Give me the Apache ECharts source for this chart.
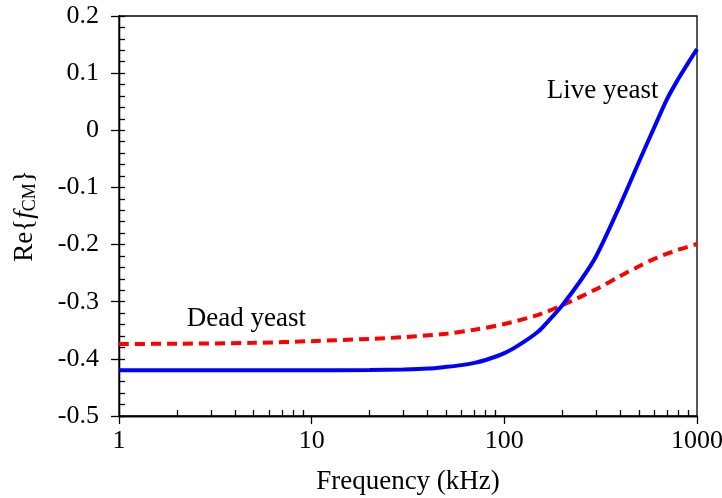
<!DOCTYPE html>
<html>
<head>
<meta charset="utf-8">
<script src="https://cdn.jsdelivr.net/npm/echarts@6/dist/echarts.min.js"></script>
<style>html,body{margin:0;padding:0;background:#fff}#c{width:722px;height:498px}</style>
</head>
<body>
<div id="c"></div>
<script>
const freqs = [1, 2, 5, 10, 20, 30, 40, 50, 60, 70, 80, 100, 120, 150, 170, 200, 250, 300, 400, 500, 600, 700, 800, 900, 1000];
const liveYeast = [-0.420, -0.420, -0.420, -0.420, -0.4195, -0.4185, -0.417, -0.414, -0.411, -0.407, -0.402, -0.390, -0.375, -0.352, -0.333, -0.306, -0.262, -0.220, -0.130, -0.055, 0.005, 0.055, 0.090, 0.118, 0.142];
const deadFreqs = [1, 2, 5, 10, 20, 30, 50, 70, 100, 150, 200, 300, 400, 500, 600, 700, 800, 1000];
const deadYeast = [-0.374, -0.3735, -0.372, -0.369, -0.365, -0.362, -0.356, -0.349, -0.339, -0.323, -0.306, -0.278, -0.255, -0.238, -0.225, -0.216, -0.209, -0.199];
const xMinorTicks = [2,3,4,5,6,7,8,9,20,30,40,50,60,70,80,90,200,300,400,500,600,700,800,900];
const yTicks = {min: -0.5, max: 0.2, interval: 0.1};

const font = 'Liberation Serif';
const chart = echarts.init(document.getElementById('c'));
const axisLine = {show: true, onZero: false, lineStyle: {color: '#000', width: 1.3}};
chart.setOption({
  animation: false,
  grid: {left: 119, right: 25, top: 16, bottom: 82, show: true, borderColor: '#000', borderWidth: 1.3,
    outerBoundsMode: 'none', containLabel: false},
  xAxis: [{
    type: 'log', logBase: 10, min: 1, max: 1000,
    axisLine: axisLine,
    axisTick: {show: true, inside: false, length: 8, lineStyle: {color: '#000', width: 1.3}},
    axisLabel: {fontFamily: font, fontSize: 26, color: '#000', margin: 12, formatter: v => String(Math.round(v))},
    splitLine: {show: false},
    name: 'Frequency (kHz)', nameLocation: 'middle', nameGap: 52,
    nameTextStyle: {fontFamily: font, fontSize: 27, color: '#000'}
  }, {
    type: 'log', logBase: 10, min: 1, max: 1000, position: 'bottom', offset: 0,
    axisLine: axisLine,
    axisTick: {show: true, inside: true, length: 6, customValues: xMinorTicks, lineStyle: {color: '#000', width: 1.3}},
    axisLabel: {show: false},
    splitLine: {show: false}
  }],
  yAxis: [{
    type: 'value', min: yTicks.min, max: yTicks.max, interval: yTicks.interval,
    axisLine: axisLine,
    axisTick: {show: true, inside: false, length: 8, lineStyle: {color: '#000', width: 1.3}},
    axisLabel: {fontFamily: font, fontSize: 26, color: '#000', margin: 20,
      formatter: v => (Math.round(v * 10) / 10).toString()},
    splitLine: {show: false},
    name: 'Re{{i|f}{s|CM}}', nameLocation: 'middle', nameGap: 80, nameRotate: 90,
    nameTextStyle: {fontFamily: font, fontSize: 27, color: '#000',
      rich: {
        i: {fontFamily: font, fontStyle: 'italic', fontSize: 27, color: '#000'},
        s: {fontFamily: font, fontSize: 18, color: '#000', padding: [10, 0, 0, 0]}
      }}
  }, {
    type: 'value', min: yTicks.min, max: yTicks.max, interval: yTicks.interval, position: 'left',
    axisLine: axisLine,
    axisTick: {show: true, inside: true, length: 6, lineStyle: {color: '#000', width: 1.3}},
    minorTick: {show: true, splitNumber: 5, length: 6, lineStyle: {color: '#000', width: 1.3}},
    axisLabel: {show: false},
    splitLine: {show: false}
  }],
  series: [{
    name: 'Dead yeast', type: 'line', xAxisIndex: 0, yAxisIndex: 0,
    data: deadFreqs.map((f, i) => [f, deadYeast[i]]),
    showSymbol: false, smooth: 0.3,
    lineStyle: {color: '#FF0000', width: 4, type: [10, 6]}
  }, {
    name: 'Live yeast', type: 'line', xAxisIndex: 0, yAxisIndex: 0,
    data: freqs.map((f, i) => [f, liveYeast[i]]),
    showSymbol: false, smooth: 0.3,
    lineStyle: {color: '#0000FF', width: 4}
  }]
});

const livePos = chart.convertToPixel({xAxisIndex: 0, yAxisIndex: 0}, [166, 0.0687]);
const deadPos = chart.convertToPixel({xAxisIndex: 0, yAxisIndex: 0}, [2.25, -0.330]);
chart.setOption({
  graphic: [
    {type: 'text', x: livePos[0], y: livePos[1], style: {text: 'Live yeast', fontFamily: font, fontSize: 27, fill: '#000', align: 'left', verticalAlign: 'middle'}},
    {type: 'text', x: deadPos[0], y: deadPos[1], style: {text: 'Dead yeast', fontFamily: font, fontSize: 27, fill: '#000', align: 'left', verticalAlign: 'middle'}}
  ]
});
</script>
</body>
</html>
